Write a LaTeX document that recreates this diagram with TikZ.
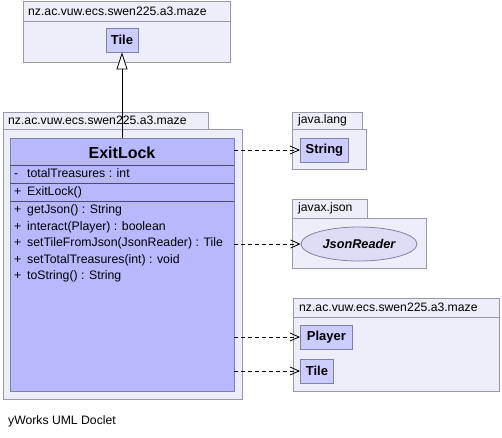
\documentclass[tikz,border=0pt]{standalone}
\usepackage{fontspec}
\setmainfont{Liberation Sans}
\usetikzlibrary{arrows.meta,shapes.geometric}
\definecolor{pkgfill}{RGB}{238,238,250}
\definecolor{pkgline}{RGB}{153,153,170}
\definecolor{clsfill}{RGB}{184,184,255}
\definecolor{smallfill}{RGB}{204,204,255}
\definecolor{clsline}{RGB}{128,128,170}
\definecolor{ellfill}{RGB}{221,221,245}
\tikzset{
  pkg/.style={draw=pkgline,fill=pkgfill,line width=0.8pt},
  cls/.style={draw=clsline,fill=clsfill,line width=0.8pt},
  smallcls/.style={draw=clsline,fill=smallfill,line width=0.8pt,minimum height=24pt,inner sep=0pt,font=\fontsize{13}{15}\selectfont\bfseries},
  pkglabel/.style={anchor=west,inner sep=0pt,font=\fontsize{12.2}{14}\selectfont},
  member/.style={anchor=west,inner sep=0pt,text height=9pt,text depth=2.5pt,font=\fontsize{12.3}{14}\selectfont},
  dep/.style={dash pattern=on 4pt off 3pt,line width=0.8pt,-{Straight Barb[length=9pt,width=8pt,line width=0.8pt]}},
  gen/.style={line width=0.8pt,-{Triangle[open,length=17pt,width=11pt,line width=0.8pt,fill=white]}}
}
\begin{document}
\begin{tikzpicture}[x=1pt,y=-1pt]
\useasboundingbox (0,0) rectangle (502,437);
% top package
\draw[pkg] (23,1) rectangle (230,62);
\draw[pkgline,line width=0.8pt] (23,21) -- (230,21);
\node[pkglabel] (ptop) at (28,11) {nz.ac.vuw.ecs.swen225.a3.maze};
\node[smallcls,minimum width=32pt] (tiletop) at (122,40) {Tile};
% main package
\draw[pkg] (3,112) rectangle (208,129);
\draw[pkg] (3,129) rectangle (242,399);
\node[pkglabel] (pmain) at (8,120.5) {nz.ac.vuw.ecs.swen225.a3.maze};
% ExitLock class
\node[cls,minimum width=224pt,minimum height=253pt,inner sep=0pt,anchor=north west] (exit) at (10,138) {};
\node[font=\fontsize{16}{18}\selectfont\bfseries,inner sep=0pt] (title) at (122,153) {ExitLock};
\draw[clsline!60!black,line width=0.8pt] (10,165) -- (234,165);
\draw[clsline!60!black,line width=0.8pt] (10,183) -- (234,183);
\draw[clsline!60!black,line width=0.8pt] (10,201) -- (234,201);
\node[member] (m0s) at (14,174.5) {-};
\node[member] (m0) at (27,174.5) {totalTreasures : int};
\node[member] (m1s) at (14,192) {+};
\node[member] (m1) at (27,192) {ExitLock()};
\node[member] (m2s) at (14,210) {+};
\node[member] (m2) at (27,210) {getJson() : String};
\node[member] (m3s) at (14,227) {+};
\node[member] (m3) at (27,227) {interact(Player) : boolean};
\node[member] (m4s) at (14,243.5) {+};
\node[member] (m4) at (27,243.5) {setTileFromJson(JsonReader) : Tile};
\node[member] (m5s) at (14,260) {+};
\node[member] (m5) at (27,260) {setTotalTreasures(int) : void};
\node[member] (m6s) at (14,276.5) {+};
\node[member] (m6) at (27,276.5) {toString() : String};
% java.lang
\draw[pkg] (292,112) rectangle (362,129);
\draw[pkg] (292,129) rectangle (366,169);
\node[pkglabel] (plang) at (298,120.5) {java.lang};
\node[smallcls,minimum width=48pt,anchor=west] (string) at (300,150) {String};
% javax.json
\draw[pkg] (292,199) rectangle (367,218);
\draw[pkg] (292,218) rectangle (426,268);
\node[pkglabel] (pjson) at (298,208.5) {javax.json};
\node[ellipse,draw=clsline,fill=ellfill,line width=0.8pt,minimum width=116pt,minimum height=34pt,inner sep=0pt,font=\fontsize{12.7}{14}\selectfont\bfseries\itshape] (json) at (359,244) {JsonReader};
% bottom package
\draw[pkg] (293,298) rectangle (499,391);
\draw[pkgline,line width=0.8pt] (293,317) -- (499,317);
\node[pkglabel] (pbot) at (299,307.5) {nz.ac.vuw.ecs.swen225.a3.maze};
\node[smallcls,minimum width=52pt,anchor=west] (player) at (300,337) {Player};
\node[smallcls,minimum width=33pt,anchor=west] (tilebot) at (300,371) {Tile};
% connectors
\coordinate (gstart) at (122,138);
\draw[gen] (gstart) -- (tiletop.south);
\coordinate (d1) at (234,150);
\coordinate (d2) at (234,244);
\coordinate (d3) at (234,337);
\coordinate (d4) at (234,371);
\draw[dep] (d1) -- (string.west);
\draw[dep] (d2) -- (json.west);
\draw[dep] (d3) -- (player.west);
\draw[dep] (d4) -- (tilebot.west);
% footer
\node[pkglabel] (footer) at (8,421) {yWorks UML Doclet};
\end{tikzpicture}
\end{document}
